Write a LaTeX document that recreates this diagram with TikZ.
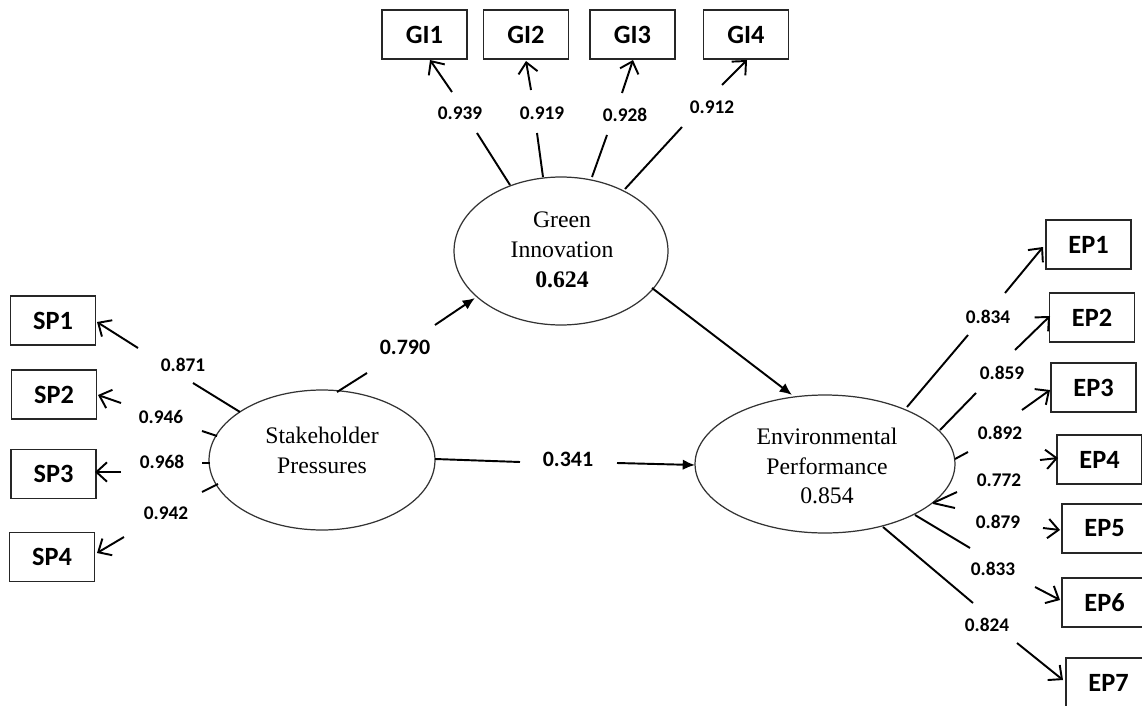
\documentclass[tikz,border=0pt]{standalone}
\usepackage{fontspec}
\setmainfont{Liberation Serif}
\newfontfamily\calfont{Carlito}
\usetikzlibrary{arrows.meta,shapes.geometric}
\begin{document}
\begin{tikzpicture}[x=0.02cm,y=-0.02cm,
  box/.style={draw=black!85,line width=0.8pt,minimum width=1.7cm,minimum height=0.98cm,inner sep=0pt,
    font=\calfont\bfseries\fontsize{15}{17}\selectfont},
  latent/.style={draw=black!80,line width=0.7pt,ellipse,inner sep=0pt},
  lattext/.style={align=center,font=\fontsize{13.5}{17}\selectfont},
  load/.style={font=\calfont\bfseries\fontsize{11}{13}\selectfont,inner sep=1pt},
  pathlbl/.style={font=\calfont\bfseries\fontsize{12.5}{14}\selectfont,inner sep=1pt},
  ind/.style={line width=1.1pt},
  indarr/.style={line width=1.1pt,-{Straight Barb[length=6pt,width=11pt,line width=1.1pt]}},
  structarr/.style={line width=1.1pt,-{Latex[length=7pt,width=6pt]}}
]
\useasboundingbox (0,0) rectangle (1142,706);
\clip (0,0) rectangle (1142,706);

% latent variables
\node[latent,minimum width=4.28cm,minimum height=2.96cm] (GI) at (561,251) {};
\node[latent,minimum width=4.52cm,minimum height=2.80cm] (SP) at (322,460) {};
\node[latent,minimum width=5.20cm,minimum height=2.76cm] (EP) at (825,464) {};
\node[lattext] (GIt) at (562,250) {Green\\Innovation\\\textbf{0.624}};
\node[lattext] (SPt) at (322,450) {Stakeholder\\Pressures};
\node[lattext] (EPt) at (827,466) {Environmental\\Performance\\0.854};

% indicators
\node[box] (GI1) at (424.5,34.5) {GI1};
\node[box] (GI2) at (526,34.5) {GI2};
\node[box] (GI3) at (632.5,34.5) {GI3};
\node[box] (GI4) at (746,34.5) {GI4};
\node[box] (SP1) at (53,320.5) {SP1};
\node[box] (SP2) at (54,394.5) {SP2};
\node[box] (SP3) at (53.5,474) {SP3};
\node[box] (SP4) at (52,557) {SP4};
\node[box] (EP1) at (1088.5,244.5) {EP1};
\node[box] (EP2) at (1092,317.5) {EP2};
\node[box] (EP3) at (1093.5,387.5) {EP3};
\node[box] (EP4) at (1099.5,459.5) {EP4};
\node[box] (EP5) at (1104.5,528.5) {EP5};
\node[box] (EP6) at (1104.5,602.5) {EP6};
\node[box] (EP7) at (1108.5,682.5) {EP7};

% loadings: name / start / gap start / gap end / tip / label pos / label
\foreach \n/\ax/\ay/\bx/\by/\cx/\cy/\dx/\dy/\lx/\ly/\v in {
  gia/510/185/477/133/452/92/430/60/460/113/0.939,
  gib/543/177/537/133/531/90/526/61/542/113/0.919,
  gic/592/177/607/135/622/93/633/60/625/115/0.928,
  gid/625/189/682/127/722/85/747/60/712/107/0.912,
  spa/240/412/193/383/138/348/97/322/183/365/0.871,
  spb/217/436/202/431/121/403/98/395/161/417/0.946,
  spc/210/463/202/463/121/472/95/472/162/462/0.968,
  spd/218/484/202/492/124/537/97/553/166/513/0.942,
  epa/907/407/968/335/1005/293/1043/247/988/317/0.834,
  epb/940/430/976/393/1015/350/1050/316/1002/373/0.859,
  epc/955/459/968/452/1022/410/1050/390/1000/433/0.892,
  epd/933/503/957/492/1040/460/1058/458/999/480/0.772,
  epe/933/503/955/508/1043/528/1060/530/998/522/0.879,
  epf/915/515/970/548/1035/587/1060/600/993/569/0.833,
  epg/883/527/973/603/1017/643/1063/680/987/625/0.824}{
  \coordinate (\n s) at (\ax,\ay);
  \coordinate (\n g) at (\bx,\by);
  \coordinate (\n h) at (\cx,\cy);
  \coordinate (\n t) at (\dx,\dy);
  \draw[ind] (\n s) -- (\n g);
  \draw[indarr] (\n h) -- (\n t);
  \node[load] (\n l) at (\lx,\ly) {\v};
}

% structural paths
\coordinate (p1s) at (337,392);
\coordinate (p1g) at (367,373);
\coordinate (p1h) at (435,325);
\coordinate (p1t) at (475,298);
\draw[ind] (p1s) -- (p1g);
\draw[structarr] (p1h) -- (p1t);
\node[pathlbl] (p1l) at (405,347) {0.790};

\coordinate (p2s) at (435,459);
\coordinate (p2g) at (520,462);
\coordinate (p2h) at (617,463);
\coordinate (p2t) at (695,465);
\draw[ind] (p2s) -- (p2g);
\draw[structarr] (p2h) -- (p2t);
\node[pathlbl] (p2l) at (568,459) {0.341};

\coordinate (p3s) at (652,288);
\coordinate (p3t) at (792,395);
\draw[structarr] (p3s) -- (p3t);
\end{tikzpicture}
\end{document}
